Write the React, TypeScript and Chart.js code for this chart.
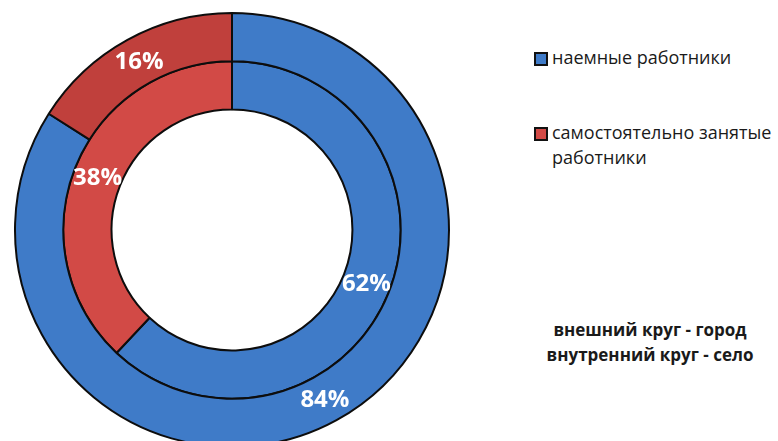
import React, { useEffect, useRef } from "react";
import { Chart, registerables } from "chart.js";

Chart.register(...registerables);

const categories = ["наемные работники", "самостоятельно занятые работники"];
const outerLabel = "город";
const innerLabel = "село";
const outerValues = [84, 16];
const innerValues = [62, 38];
const noteLines = ["внешний круг - город", "внутренний круг - село"];

const BLUE = "#3f7bc8";
const RED_OUTER = "#c0403c";
const RED_INNER = "#d24a46";
const FONT = "'Open Sans', 'Noto Sans', sans-serif";

const labelPlugin = {
  id: "sliceLabels",
  afterDatasetsDraw(chart: any) {
    const ctx = chart.ctx;
    ctx.save();
    ctx.fillStyle = "#ffffff";
    ctx.font = `bold 24px ${FONT}`;
    ctx.textAlign = "center";
    ctx.textBaseline = "middle";
    chart.data.datasets.forEach((ds: any, di: number) => {
      const meta = chart.getDatasetMeta(di);
      const total = ds.data.reduce((a: number, b: number) => a + b, 0);
      meta.data.forEach((arc: any, i: number) => {
        const p = arc.getCenterPoint();
        const pct = Math.round((ds.data[i] / total) * 100);
        ctx.fillText(pct + "%", p.x, p.y + 1);
      });
    });
    ctx.restore();
  },
};

export default function App() {
  const ref = useRef<HTMLCanvasElement | null>(null);

  useEffect(() => {
    if (!ref.current) return;
    const chart = new Chart(ref.current, {
      type: "doughnut",
      data: {
        labels: categories,
        datasets: [
          {
            label: outerLabel,
            data: outerValues,
            backgroundColor: [BLUE, RED_OUTER],
            borderColor: "#0d0d0d",
            borderWidth: 2,
          },
          {
            label: innerLabel,
            data: innerValues,
            backgroundColor: [BLUE, RED_INNER],
            borderColor: "#0d0d0d",
            borderWidth: 2,
          },
        ],
      },
      options: {
        animation: false,
        responsive: false,
        maintainAspectRatio: false,
        cutout: "55.5%",
        layout: { padding: 1 },
        plugins: {
          legend: { display: false },
          tooltip: { enabled: false },
        },
      },
      plugins: [labelPlugin],
    });
    return () => chart.destroy();
  }, []);

  const swatch = (color: string) => ({
    display: "inline-block",
    width: 10,
    height: 10,
    border: "2px solid #111",
    background: color,
    boxSizing: "content-box" as const,
    flex: "none" as const,
  });

  return (
    <div
      style={{
        position: "fixed",
        left: 0,
        top: 0,
        width: 778,
        height: 441,
        overflow: "hidden",
        background: "#ffffff",
        fontFamily: FONT,
        color: "#1a1a1a",
      }}
    >
      <canvas
        ref={ref}
        width={438}
        height={438}
        style={{ position: "absolute", left: 13, top: 11, width: 438, height: 438 }}
      />
      <div style={{ position: "absolute", left: 534, top: 45, fontSize: 18, lineHeight: "25px" }}>
        <div style={{ display: "flex", alignItems: "flex-start" }}>
          <span style={{ ...swatch(BLUE), marginTop: 7, marginRight: 4 }} />
          <span>{categories[0]}</span>
        </div>
      </div>
      <div style={{ position: "absolute", left: 534, top: 120, fontSize: 18, lineHeight: "25px", width: 250 }}>
        <div style={{ display: "flex", alignItems: "flex-start" }}>
          <span style={{ ...swatch(RED_INNER), marginTop: 7, marginRight: 4 }} />
          <span>{categories[1]}</span>
        </div>
      </div>
      <div
        style={{
          position: "absolute",
          left: 520,
          width: 260,
          top: 317,
          textAlign: "center",
          fontWeight: "bold",
          fontSize: 17,
          lineHeight: "25px",
        }}
      >
        {noteLines.map((t) => (
          <div key={t}>{t}</div>
        ))}
      </div>
    </div>
  );
}
